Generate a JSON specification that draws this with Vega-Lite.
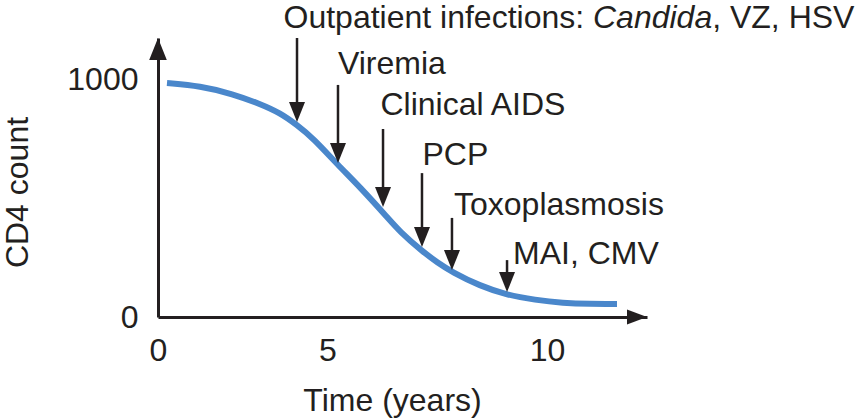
{
  "$schema": "https://vega.github.io/schema/vega-lite/v6.json",
  "width": 489,
  "height": 279,
  "autosize": {"type": "none"},
  "padding": {"left": 158, "top": 38, "right": 211, "bottom": 103},
  "background": "white",
  "config": {"view": {"stroke": null}, "font": "Liberation Sans"},
  "datasets": {
    "curve": [
      {"t": 0.433, "cd4": 987},
      {"t": 1.565, "cd4": 975},
      {"t": 2.536, "cd4": 941},
      {"t": 3.278, "cd4": 899},
      {"t": 3.805, "cd4": 861},
      {"t": 4.242, "cd4": 810},
      {"t": 4.645, "cd4": 755},
      {"t": 5.261, "cd4": 641},
      {"t": 5.792, "cd4": 548},
      {"t": 6.43, "cd4": 422},
      {"t": 6.734, "cd4": 359},
      {"t": 7.239, "cd4": 278},
      {"t": 7.604, "cd4": 228},
      {"t": 7.918, "cd4": 190},
      {"t": 8.543, "cd4": 131},
      {"t": 9.136, "cd4": 93},
      {"t": 9.742, "cd4": 72},
      {"t": 10.341, "cd4": 59},
      {"t": 10.91, "cd4": 55},
      {"t": 11.478, "cd4": 55}
    ],
    "arrows": [
      {"event": "Outpatient infections", "t": 4.242, "top": 1177, "tip": 823},
      {"event": "Viremia", "t": 5.261, "top": 979, "tip": 650},
      {"event": "Clinical AIDS", "t": 6.337, "top": 793, "tip": 464},
      {"event": "PCP", "t": 7.239, "top": 607, "tip": 295},
      {"event": "Toxoplasmosis", "t": 7.918, "top": 418, "tip": 198},
      {"event": "MAI, CMV", "t": 9.136, "top": 240, "tip": 105}
    ],
    "labels": [
      {"label": "Outpatient infections: ", "t": 3.896, "y": 1219, "style": "normal"},
      {"label": "Candida", "t": 10.976, "y": 1219, "style": "italic"},
      {"label": ", VZ, HSV", "t": 13.43, "y": 1219, "style": "normal"},
      {"label": "Viremia", "t": 5.261, "y": 1025, "style": "normal"},
      {"label": "Clinical AIDS", "t": 6.277, "y": 852, "style": "normal"},
      {"label": "PCP", "t": 7.251, "y": 641, "style": "normal"},
      {"label": "Toxoplasmosis", "t": 7.964, "y": 430, "style": "normal"},
      {"label": "MAI, CMV", "t": 9.266, "y": 224, "style": "normal"}
    ],
    "yhead": [{"t": 0, "cd4": 1177}],
    "xhead": [{"t": 12.1, "cd4": 0}]
  },
  "layer": [
    {
      "data": {"name": "curve"},
      "mark": {"type": "line", "color": "#4a87cb", "strokeWidth": 6, "interpolate": "basis", "strokeCap": "butt"},
      "encoding": {
        "x": {
          "field": "t", "type": "quantitative", "title": "Time (years)",
          "scale": {"type": "pow", "exponent": 1.2, "domain": [0, 12.1], "nice": false, "zero": false},
          "axis": {
            "values": [0, 5, 10], "format": "d", "ticks": false, "grid": false,
            "domainColor": "#231f20", "domainWidth": 3,
            "labelFont": "Liberation Sans", "labelFontSize": 32, "labelColor": "#231f20",
            "labelPadding": 18, "labelFlush": false, "labelOverlap": false, "labelBound": false,
            "titleFont": "Liberation Sans", "titleFontSize": 32, "titleFontWeight": "normal", "titleColor": "#231f20",
            "titleX": 234, "titleY": 93, "titleBaseline": "alphabetic", "titleAlign": "center"
          }
        },
        "y": {
          "field": "cd4", "type": "quantitative", "title": "CD4 count",
          "scale": {"domain": [0, 1177], "nice": false},
          "axis": {
            "values": [0, 1000], "format": "d", "ticks": false, "grid": false,
            "domainColor": "#231f20", "domainWidth": 3,
            "labelFont": "Liberation Sans", "labelFontSize": 32, "labelColor": "#231f20",
            "labelPadding": 20, "labelFlush": false, "labelOverlap": false, "labelBound": false,
            "titleFont": "Liberation Sans", "titleFontSize": 32, "titleFontWeight": "normal", "titleColor": "#231f20",
            "titleX": -131, "titleY": 154, "titleBaseline": "alphabetic", "titleAlign": "center", "titleAngle": -90
          }
        }
      }
    },
    {
      "data": {"name": "arrows"},
      "mark": {"type": "rule", "color": "#231f20", "strokeWidth": 2.5, "y2Offset": -6},
      "encoding": {
        "x": {"field": "t", "type": "quantitative", "title": "Time (years)"},
        "y": {"field": "top", "type": "quantitative", "title": "CD4 count"},
        "y2": {"field": "tip"}
      }
    },
    {
      "data": {"name": "arrows"},
      "mark": {"type": "point", "shape": "M0,0L-0.4,-1L0.4,-1Z", "size": 1600, "filled": true, "opacity": 1, "color": "#231f20", "strokeWidth": 0},
      "encoding": {
        "x": {"field": "t", "type": "quantitative", "title": "Time (years)"},
        "y": {"field": "tip", "type": "quantitative", "title": "CD4 count"}
      }
    },
    {
      "data": {"name": "yhead"},
      "mark": {"type": "point", "shape": "M0,0L-0.4,1L0.4,1Z", "size": 1936, "filled": true, "opacity": 1, "color": "#231f20", "strokeWidth": 0},
      "encoding": {
        "x": {"field": "t", "type": "quantitative", "title": "Time (years)"},
        "y": {"field": "cd4", "type": "quantitative", "title": "CD4 count"}
      }
    },
    {
      "data": {"name": "xhead"},
      "mark": {"type": "point", "shape": "M0,0L-1,-0.375L-1,0.375Z", "size": 1600, "filled": true, "opacity": 1, "color": "#231f20", "strokeWidth": 0},
      "encoding": {
        "x": {"field": "t", "type": "quantitative", "title": "Time (years)"},
        "y": {"field": "cd4", "type": "quantitative", "title": "CD4 count"}
      }
    },
    {
      "data": {"name": "labels"},
      "transform": [{"filter": {"field": "style", "equal": "normal"}}],
      "mark": {"type": "text", "align": "left", "baseline": "alphabetic", "font": "Liberation Sans", "fontSize": 32, "color": "#231f20"},
      "encoding": {
        "x": {"field": "t", "type": "quantitative", "title": "Time (years)"},
        "y": {"field": "y", "type": "quantitative", "title": "CD4 count"},
        "text": {"field": "label"}
      }
    },
    {
      "data": {"name": "labels"},
      "transform": [{"filter": {"field": "style", "equal": "italic"}}],
      "mark": {"type": "text", "align": "left", "baseline": "alphabetic", "font": "Liberation Sans", "fontSize": 32, "fontStyle": "italic", "color": "#231f20"},
      "encoding": {
        "x": {"field": "t", "type": "quantitative", "title": "Time (years)"},
        "y": {"field": "y", "type": "quantitative", "title": "CD4 count"},
        "text": {"field": "label"}
      }
    }
  ]
}
